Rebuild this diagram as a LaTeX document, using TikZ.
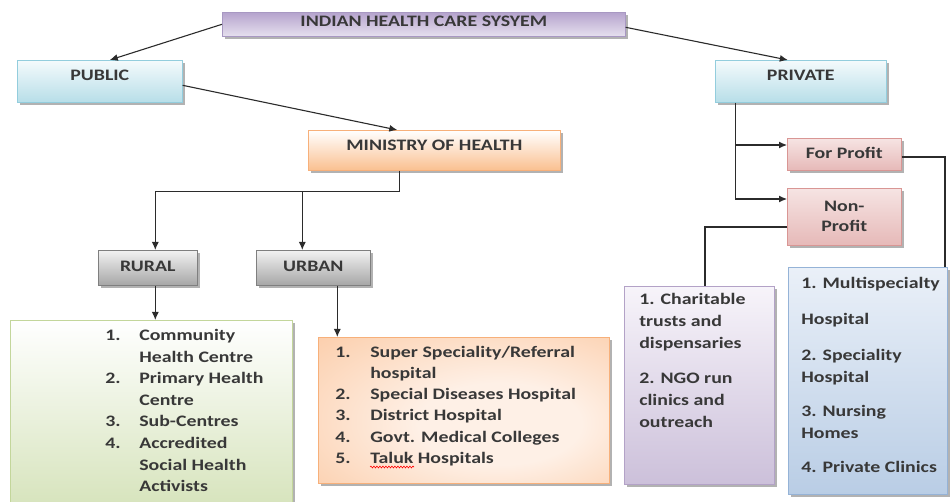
\documentclass[tikz,border=0pt]{standalone}
\usepackage{fontspec}
\setmainfont{Carlito}[FakeStretch=1.24]
\usetikzlibrary{arrows.meta,shadows,calc,decorations.pathmorphing}

\definecolor{txt}{HTML}{383838}
\definecolor{lnk}{HTML}{2B2B2B}
\definecolor{purTop}{HTML}{B5A3CD}
\definecolor{purBot}{HTML}{E6E0EE}
\definecolor{purLine}{HTML}{A898C2}
\definecolor{bluTop}{HTML}{F4FAFC}
\definecolor{bluBot}{HTML}{B7DEE8}
\definecolor{bluLine}{HTML}{93CDDD}
\definecolor{orTop}{HTML}{FFFFFF}
\definecolor{orBot}{HTML}{FAC090}
\definecolor{orLine}{HTML}{F7B07A}
\definecolor{gryTop}{HTML}{F2F2F2}
\definecolor{gryBot}{HTML}{A6A6A6}
\definecolor{gryLine}{HTML}{7F7F7F}
\definecolor{pnkTop}{HTML}{F6E4E3}
\definecolor{pnkBot}{HTML}{E6B9B8}
\definecolor{pnkLine}{HTML}{D99694}
\definecolor{grnTop}{HTML}{FFFFFF}
\definecolor{grnBot}{HTML}{D7E4BD}
\definecolor{grnLine}{HTML}{C3D69B}
\definecolor{peachIn}{HTML}{FEF0E6}
\definecolor{peachMid}{HTML}{FCD3B4}
\definecolor{peachOut}{HTML}{F8B27E}
\definecolor{lavTop}{HTML}{F7F4FA}
\definecolor{lavBot}{HTML}{CCC0DA}
\definecolor{lavLine}{HTML}{B3A2C7}
\definecolor{skyTop}{HTML}{EAF0F8}
\definecolor{skyBot}{HTML}{B9CDE5}
\definecolor{skyLine}{HTML}{95B3D7}

% soft peach glow, light in the middle and deeper toward the corners
\pgfdeclareradialshading{peachglow}{\pgfpoint{8bp}{-6bp}}{%
  color(0bp)=(peachIn); color(14bp)=(peachIn); color(36bp)=(peachMid); color(62bp)=(peachOut)}

\tikzset{
  box/.style={draw, line width=0.6pt, inner sep=0pt, anchor=north west,
    align=center, text=txt, font=\fontsize{16}{19}\selectfont\bfseries,
    drop shadow={shadow xshift=2.5pt, shadow yshift=-2.5pt, opacity=0.3, fill=black}},
  purplebox/.style={box, top color=purTop, bottom color=purBot, draw=purLine},
  bluebox/.style={box, top color=bluTop, bottom color=bluBot, draw=bluLine},
  orangebox/.style={box, top color=orTop, bottom color=orBot, draw=orLine},
  graybox/.style={box, top color=gryTop, bottom color=gryBot, draw=gryLine},
  pinkbox/.style={box, top color=pnkTop, bottom color=pnkBot, draw=pnkLine},
  link/.style={draw=lnk, line width=1.1pt},
  arr/.style={link, -{Latex[length=8pt,width=7pt]}},
  spellmark/.style={draw=red, line width=0.6pt, decorate,
    decoration={snake, amplitude=0.9pt, segment length=3pt}},
}

\begin{document}
\begin{tikzpicture}[x=1pt,y=-1pt]
\useasboundingbox[fill=white] (0,0) rectangle (950,502);

% top level
\node[purplebox, minimum width=403pt, text height=14pt, text depth=10pt] (title) at (222,12) {INDIAN HEALTH CARE SYSYEM};
\node[bluebox, minimum width=165pt, text height=20pt, text depth=22pt] (public) at (17,60) {PUBLIC};
\node[bluebox, minimum width=171pt, text height=20pt, text depth=22pt] (private) at (715,60) {PRIVATE};

% public branch
\node[orangebox, minimum width=252pt, text height=20pt, text depth=20pt] (ministry) at (308,130) {MINISTRY OF HEALTH};
\node[graybox, minimum width=99pt, text height=21pt, text depth=14pt] (rural) at (98,250) {RURAL};
\node[graybox, minimum width=114pt, text height=21pt, text depth=14pt] (urban) at (256,250) {URBAN};

\node[box, top color=grnTop, bottom color=grnBot, draw=grnLine, align=left] (rurallist) at (10,320) {%
  \begin{minipage}[c][184pt][t]{282pt}\fontsize{16}{21.6}\selectfont\vspace*{5pt}%
  \hspace*{95pt}\begin{tabular}[t]{@{}p{34pt}@{}l@{}}
  1. & Community\\
     & Health Centre\\
  2. & Primary Health\\
     & Centre\\
  3. & Sub-Centres\\
  4. & Accredited\\
     & Social Health\\
     & Activists
  \end{tabular}\end{minipage}};

\node[box, shading=peachglow, draw=orLine, align=left] (urbanlist) at (318,337) {%
  \begin{minipage}[c][146pt][t]{291pt}\fontsize{16}{21.2}\selectfont\vspace*{5.2pt}%
  \hspace*{17pt}\begin{tabular}[t]{@{}p{35pt}@{}l@{}}
  1. & Super Speciality/Referral\\
     & hospital\\
  2. & Special Diseases Hospital\\
  3. & District Hospital\\
  4. & Govt. Medical Colleges\\
  5. & Taluk Hospitals
  \end{tabular}\end{minipage}};
% spell-check squiggle under "Taluk"
\draw[spellmark] ($(urbanlist.north west)+(52,130)$) -- ++(44,0);

% private branch
\node[pinkbox, minimum width=114pt, text height=20pt, text depth=12pt] (forprofit) at (787,138) {For Profit};
\node[pinkbox, minimum width=114pt, minimum height=57pt, font=\fontsize{16}{20}\selectfont\bfseries] (nonprofit) at (787,188) {Non-\\Profit};

\node[box, top color=lavTop, bottom color=lavBot, draw=lavLine, align=left] (charity) at (624,286) {%
  \begin{minipage}[c][198pt][t]{150pt}\fontsize{16}{22}\selectfont\vspace*{3pt}%
  \hspace*{15pt}\begin{tabular}[t]{@{}l@{}}
  1. Charitable\\
  trusts and\\
  dispensaries\\[13pt]
  2. NGO run\\
  clinics and\\
  outreach
  \end{tabular}\end{minipage}};

\node[box, top color=skyTop, bottom color=skyBot, draw=skyLine, align=left] (profitlist) at (788,267) {%
  \begin{minipage}[c][227pt][t]{159pt}\fontsize{16}{22}\selectfont\vspace*{5.6pt}%
  \hspace*{13pt}\begin{tabular}[t]{@{}l@{}}
  1. Multispecialty\\[14pt]
  Hospital\\[14pt]
  2. Speciality\\
  Hospital\\[12pt]
  3. Nursing\\
  Homes\\[12pt]
  4. Private Clinics
  \end{tabular}\end{minipage}};

% connectors
\draw[arr] (title.west) -- ([xshift=10pt]public.north);
\draw[arr] ([yshift=-3pt]title.east) -- ([xshift=-13pt]private.north);
\draw[arr] ([yshift=-4pt]public.east) -- ([xshift=-37pt]ministry.north);

\coordinate (mdrop) at ($(ministry.south)+(-35,21)$);
\coordinate (ruraltop) at ([xshift=7.5pt]rural.north);
\coordinate (urbantop) at ([xshift=-11pt]urban.north);
\draw[link] ([xshift=-35pt]ministry.south) -- (mdrop) -- (mdrop -| ruraltop);
\draw[arr] (mdrop -| ruraltop) -- (ruraltop);
\draw[arr] (mdrop -| urbantop) -- (urbantop);
\draw[arr] ([xshift=7.5pt]rural.south) -- ([xshift=7.5pt]rural.south |- rurallist.north);
\draw[arr] ([xshift=24pt]urban.south) -- ([xshift=24pt]urban.south |- urbanlist.north);

\coordinate (pdrop) at ($(private.south)+(-65.5,0)$);
\draw[link] (pdrop) -- (pdrop |- 0,199);
\draw[arr] (pdrop |- 0,145) -- (forprofit.west |- 0,145);
\draw[arr] (pdrop |- 0,199) -- (nonprofit.west |- 0,199);

\coordinate (fpturn) at (945,157);
\draw[link] (forprofit.east |- fpturn) -- (fpturn) -- (fpturn |- profitlist.north);
\coordinate (npturn) at (705,227);
\draw[link] (nonprofit.west |- npturn) -- (npturn) -- (npturn |- charity.north);
\end{tikzpicture}
\end{document}
